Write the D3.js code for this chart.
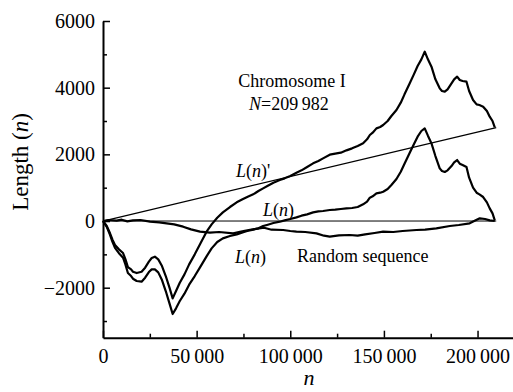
<!DOCTYPE html>
<html>
<head>
<meta charset="utf-8">
<script src="https://cdn.jsdelivr.net/npm/d3@7"></script>
<style>
    body { margin: 0; background: #fff; }
    svg { display: block; font-family: "Liberation Serif", "DejaVu Serif", serif; }
</style>
</head>
<body>
<svg id="chart" width="513" height="392"></svg>
<script>
// tick values
const xMajor = [0, 50000, 100000, 150000, 200000];
const xMinor = [25000, 75000, 125000, 175000];
const yMajor = [-2000, 0, 2000, 4000, 6000];
const yMinor = [-3000, -1000, 1000, 3000, 5000];

const seqLength = 209982;

// L(n)' : cumulative walk (not detrended)
const walkN = [0, 2000, 3700, 5000, 6400, 8500, 10700, 12000, 13300, 15000, 16000, 18000, 20600, 22500, 24500, 26000,
    27700, 29500, 31500, 33500, 35500, 37200, 39000, 41000, 43500, 46000, 49000, 51800, 55300, 58000, 61000, 64000,
    67800, 71400, 74500, 77000, 80200, 83000, 85500, 88000, 91000, 94400, 97000, 100000, 103300, 106000, 109000, 112200,
    115000, 117500, 121100, 124000, 127000, 130000, 133000, 136000, 138900, 141000, 142500, 144000, 146000, 148000, 149600,
    152000, 154000, 156700, 159000, 161000, 163800, 166000, 168000, 170000, 171800, 173500, 175400, 177500, 179800, 181000,
    182500, 184000, 186100, 187500, 189100, 190500, 192000, 194100, 195500, 197600, 199500, 201000, 203000, 205000, 206500,
    208000, 209200];
const walkPrime = [0, -150, -360, -550, -720, -850, -960, -1150, -1380, -1450, -1520, -1560, -1520, -1400, -1220, -1110,
    -1070, -1150, -1350, -1650, -2000, -2320, -2100, -1850, -1600, -1300, -1000, -700, -320, -100, 100, 260,
    420, 560, 650, 720, 800, 900, 980, 1060, 1150, 1230, 1280, 1350, 1450, 1520, 1620, 1730,
    1800, 1880, 1990, 2020, 2050, 2120, 2180, 2250, 2330, 2450, 2580, 2650, 2780, 2820, 2880,
    3000, 3150, 3330, 3550, 3800, 4130, 4400, 4650, 4850, 5080, 4850, 4630, 4250, 3980, 3900,
    3880, 3950, 4130, 4250, 4330, 4230, 4200, 4180, 3900, 3630, 3500, 3480, 3430, 3300, 3130,
    3000, 2810];
// L(n) : detrended walk, same n positions
const walkL = [0, -177, -410, -620, -805, -965, -1100, -1310, -1560, -1650, -1730, -1800, -1820, -1700, -1530, -1450,
    -1450, -1540, -1770, -2100, -2470, -2790, -2620, -2400, -2180, -1910, -1650, -1390, -1060, -820, -630, -520,
    -450, -400, -340, -300, -260, -220, -150, -110, -60, -20, 20, 60, 110, 160, 200, 260,
    290, 300, 330, 340, 360, 380, 390, 420, 500, 580, 700, 740, 830, 850, 880,
    960, 1080, 1260, 1480, 1720, 2050, 2300, 2530, 2700, 2780, 2560, 2330, 1950, 1580, 1500,
    1470, 1520, 1650, 1760, 1830, 1720, 1680, 1620, 1300, 1000, 850, 800, 720, 560, 380,
    230, 20];

// random sequence walk
const randN = [0, 3000, 7300, 10000, 13000, 16000, 20000, 25100, 30000, 34000, 38000, 42800, 47000, 51800, 57100, 62000,
    69500, 75000, 80000, 86000, 90000, 96200, 100000, 103300, 108000, 114000, 118000, 121100, 126000, 131800, 136000,
    140000, 145000, 149600, 155000, 160000, 167400, 172000, 178000, 185200, 190000, 195800, 199000, 201200, 204000,
    206500, 209200];
const randL = [0, 30, 10, 40, -10, 20, 30, -20, -40, -70, -100, -170, -250, -320, -350, -330,
    -370, -300, -250, -200, -260, -270, -300, -320, -330, -370, -440, -470, -430, -420, -440,
    -400, -360, -320, -330, -300, -270, -260, -220, -150, -120, -70, 20, 80, 60,
    20, 0];

const trendLine = [[0, 0], [seqLength, 2800]];
const zeroLine = [[0, 0], [seqLength, 0]];

const svg = d3.select("#chart");
const margin = {left: 103, top: 21, right: 515, bottom: 337.7};

const x = d3.scaleLinear().domain([0, 220000]).range([margin.left, margin.right]);
const y = d3.scaleLinear().domain([-3500, 6000]).range([margin.bottom, margin.top]);

const fmtX = d => d3.format(",")(d).replace(/,/g, "\u2009");
const fmtY = d => d < 0 ? "\u2212" + Math.abs(d) : String(d);

// minor ticks
svg.append("g")
    .attr("transform", `translate(0,${margin.bottom})`)
    .call(d3.axisBottom(x).tickValues(xMinor).tickSize(-4).tickSizeOuter(0).tickFormat(""))
    .call(g => g.select(".domain").remove());
svg.append("g")
    .attr("transform", `translate(${margin.left},0)`)
    .call(d3.axisLeft(y).tickValues(yMinor).tickSize(-4).tickSizeOuter(0).tickFormat(""))
    .call(g => g.select(".domain").remove());

// major axes
svg.append("g")
    .attr("transform", `translate(0,${margin.bottom})`)
    .call(d3.axisBottom(x).tickValues(xMajor).tickSize(-7).tickSizeOuter(0).tickPadding(11).tickFormat(fmtX));
svg.append("g")
    .attr("transform", `translate(${margin.left},0)`)
    .call(d3.axisLeft(y).tickValues(yMajor).tickSize(-7).tickSizeOuter(0).tickPadding(8).tickFormat(fmtY));

svg.selectAll(".tick line").attr("stroke", "#000").attr("stroke-width", 1.5);
svg.selectAll(".domain").attr("stroke", "#000").attr("stroke-width", 2);
svg.selectAll(".tick text")
    .attr("fill", "#000")
    .style("font-family", "Liberation Serif")
    .style("font-size", "20px");

// straight reference lines
const line = d3.line().x(d => x(d[0])).y(d => y(d[1]));
svg.append("path").attr("d", line(zeroLine))
    .attr("fill", "none").attr("stroke", "#000").attr("stroke-width", 1);
svg.append("path").attr("d", line(trendLine))
    .attr("fill", "none").attr("stroke", "#000").attr("stroke-width", 1.3);

// walks
const walks = [
    walkN.map((n, i) => [n, walkPrime[i]]),
    walkN.map((n, i) => [n, walkL[i]]),
    randN.map((n, i) => [n, randL[i]])
];
svg.append("g").selectAll("path")
    .data(walks)
    .join("path")
    .attr("d", line)
    .attr("fill", "none")
    .attr("stroke", "#000")
    .attr("stroke-width", 2.2)
    .attr("stroke-linejoin", "round");

// labels
function label(xp, yp, parts, size, anchor = "start")
{
    const t = svg.append("text")
        .attr("x", xp).attr("y", yp)
        .attr("text-anchor", anchor)
        .style("font-size", size + "px");
    parts.forEach(([s, it]) => t.append("tspan").text(s).style("font-style", it ? "italic" : "normal"));
    return t;
}

label(292, 87, [["Chromosome I", false]], 18, "middle");
label(249, 110, [["N", true], ["=209\u2009982", false]], 18);
label(236, 177, [["L", true], ["(", false], ["n", true], [")'", false]], 18);
label(263, 216, [["L", true], ["(", false], ["n", true], [")", false]], 18);
label(235, 263, [["L", true], ["(", false], ["n", true], [")", false]], 18);
label(297, 262, [["Random sequence", false]], 18);

// axis titles
label(309, 385, [["n", true]], 22, "middle");
label(0, 0, [["Length (", false], ["n", true], [")", false]], 23, "middle")
    .attr("transform", "translate(28,162) rotate(-90)");
</script>
</body>
</html>
